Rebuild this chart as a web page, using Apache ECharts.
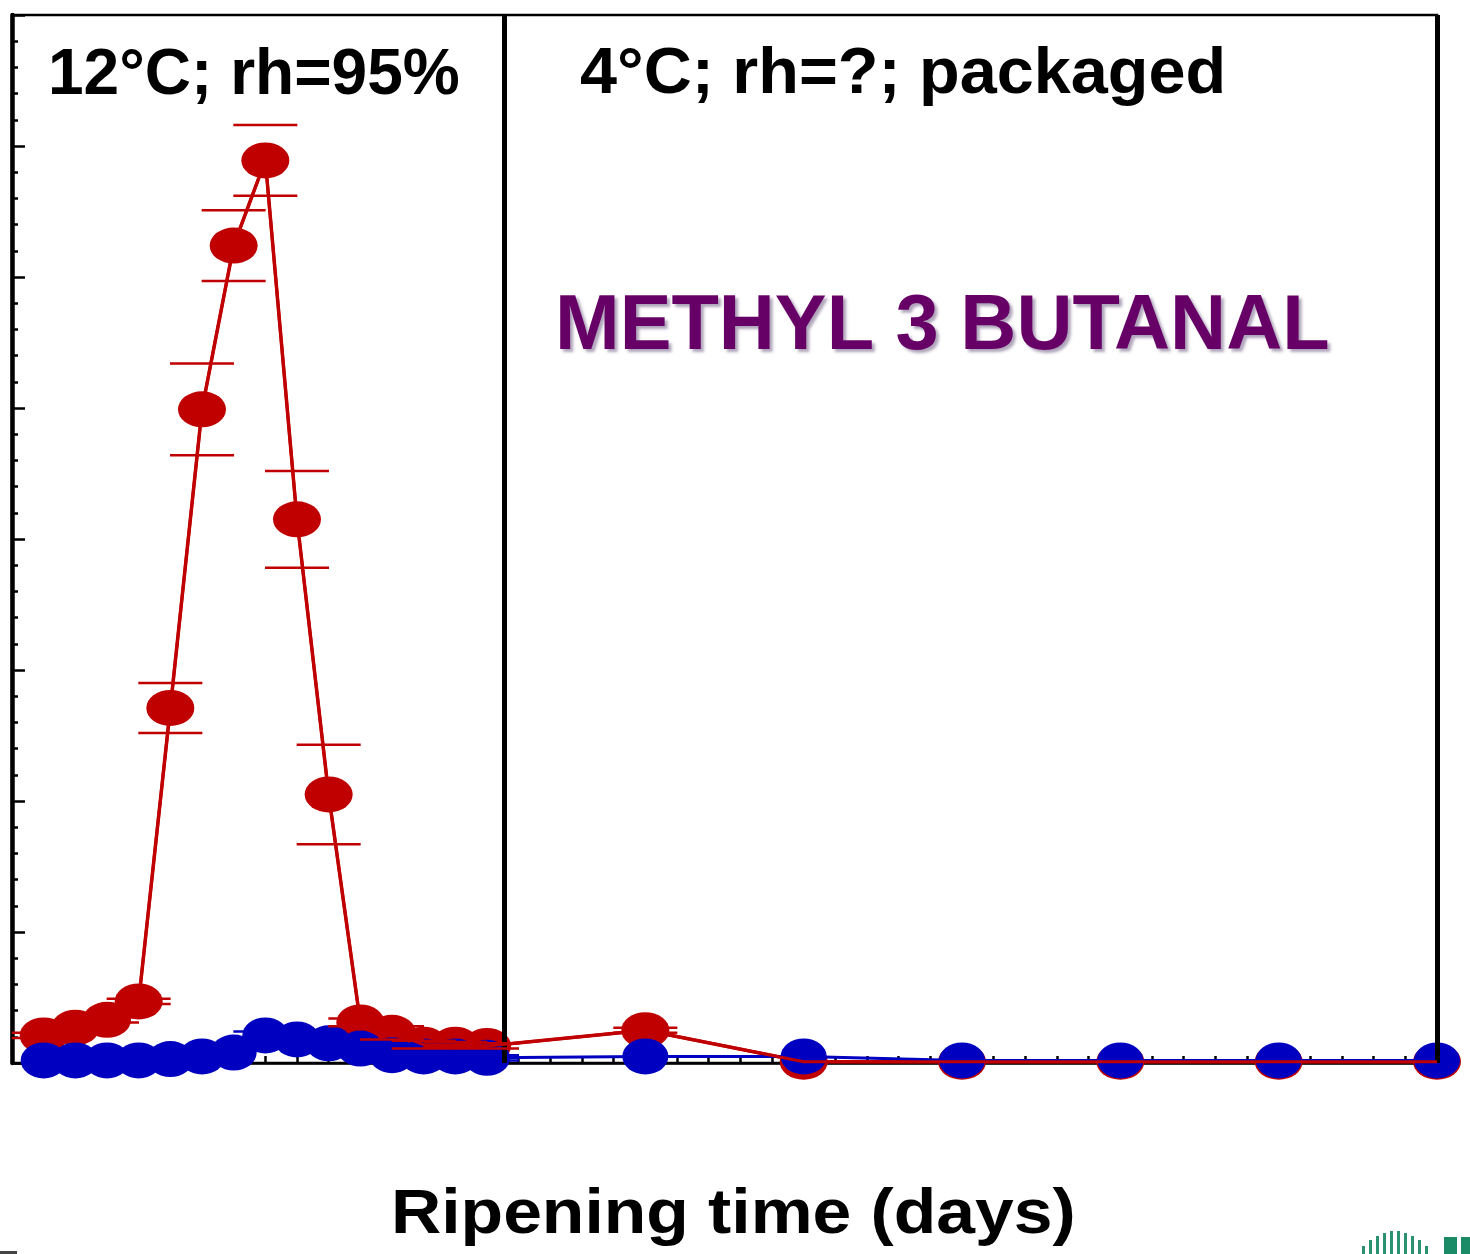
<!DOCTYPE html>
<html>
<head>
<meta charset="utf-8">
<script src="https://cdn.jsdelivr.net/npm/echarts@6/dist/echarts.min.js"></script>
<style>
html,body{margin:0;padding:0;background:#fff;}
#chart{width:1470px;height:1254px;}
</style>
</head>
<body>
<div id="chart"></div>
<script>
// ---- data ----
const days = [1,2,3,4,5,6,7,8,9,10,11,12,13,14,15,20,25,30,35,40,45];
const redValues  = [0.21,0.27,0.33,0.47,2.71,4.99,6.24,6.89,4.15,2.05,0.31,0.23,0.14,0.14,0.13,0.25,0.01,0.01,0.01,0.01,0.01];
const redErrors  = [0.02,0.02,0.02,0.02,0.19,0.35,0.27,0.27,0.37,0.38,0.03,0.05,0.03,0.02,0.02,0.02,0,0,0,0,0];
const blueValues = [0.02,0.02,0.02,0.02,0.03,0.05,0.08,0.21,0.18,0.15,0.11,0.06,0.05,0.05,0.04,0.05,0.05,0.02,0.02,0.02,0.02];
const blueErrors = [0,0,0,0,0,0,0,0.03,0.03,0.04,0.06,0.03,0.03,0.02,0.02,0,0,0,0,0,0];
const panelDivider = 15.55;
const xMax = 45;
const yMax = 8;
const leftPanelLabel = '12°C; rh=95%';
const rightPanelLabel = '4°C; rh=?; packaged';
const compoundLabel = 'METHYL 3 BUTANAL';
const xAxisTitle = 'Ripening time (days)';

const RED = '#C00000';
const BLUE = '#0000C0';

const redData = days.map((d,i)=>[d, redValues[i]]);
const blueData = days.map((d,i)=>[d, blueValues[i]]);
const redErrData = days.map((d,i)=>[d, redValues[i], redErrors[i]]);
const blueErrData = days.map((d,i)=>[d, blueValues[i], blueErrors[i]]);

function errRender(color){
  return function(params, api){
    const x = api.value(0), y = api.value(1), e = api.value(2);
    if (!e) return;
    const top = api.coord([x, y + e]);
    const bot = api.coord([x, y - e]);
    const hw = 32;
    const st = {stroke: color, lineWidth: 2.5};
    return {type:'group', children:[
      {type:'line', shape:{x1:top[0]-hw, y1:top[1], x2:top[0]+hw, y2:top[1]}, style:st},
      {type:'line', shape:{x1:bot[0]-hw, y1:bot[1], x2:bot[0]+hw, y2:bot[1]}, style:st}
    ]};
  };
}

const chart = echarts.init(document.getElementById('chart'), null, {renderer:'canvas'});
const FONT = '"Liberation Sans", Arial, Helvetica, sans-serif';

const option = {
  animation: false,
  backgroundColor: '#fff',
  grid: {left: 12, right: 33, top: 15, bottom: 191, show: true, borderColor: '#000', borderWidth: 2.5, backgroundColor: 'transparent'},
  xAxis: {
    type: 'value', min: 0, max: xMax, interval: 1,
    axisLine: {show: true, onZero: false, lineStyle: {color: '#000', width: 2.5}},
    axisTick: {show: true, inside: true, length: 7, lineStyle: {color: '#000', width: 2.5}},
    axisLabel: {show: false},
    splitLine: {show: false}
  },
  yAxis: {
    type: 'value', min: 0, max: yMax, interval: 1,
    axisLine: {show: true, lineStyle: {color: '#000', width: 4.5}},
    axisTick: {show: true, inside: true, length: 13, lineStyle: {color: '#000', width: 2.5}},
    minorTick: {show: true, splitNumber: 5, length: 6, lineStyle: {color: '#000', width: 2.5}},
    axisLabel: {show: false},
    splitLine: {show: false}
  },
  series: [
    {
      name: 'red', type: 'line', data: redData, z: 2,
      symbol: 'circle', symbolSize: [48, 36],
      itemStyle: {color: RED},
      lineStyle: {color: RED, width: 3.5},
      markLine: {
        silent: true, symbol: ['none','none'], label: {show: false},
        lineStyle: {color: '#000', type: 'solid', width: 5},
        data: [{xAxis: panelDivider}, {xAxis: xMax}]
      }
    },
    {
      name: 'blue', type: 'line', data: blueData, z: 3,
      symbol: 'circle', symbolSize: [46, 36],
      itemStyle: {color: BLUE},
      lineStyle: {color: BLUE, width: 3}
    },
    {
      name: 'blueErr', type: 'custom', data: blueErrData, z: 4,
      renderItem: errRender(BLUE)
    },
    {
      name: 'redLineTop', type: 'line', data: redData, z: 5,
      showSymbol: false, symbol: 'none',
      lineStyle: {color: RED, width: 3}
    },
    {
      name: 'redErr', type: 'custom', data: redErrData, z: 6,
      renderItem: errRender(RED)
    }
  ],
  graphic: [
    {type:'text', x: 48, y: 76, scaleX: 0.985, z: 100,
     style:{text: leftPanelLabel, fill:'#000', font: 'bold 65px ' + FONT, textAlign:'left', textVerticalAlign:'middle'}},
    {type:'text', x: 580, y: 75, scaleX: 1.04, z: 100,
     style:{text: rightPanelLabel, fill:'#000', font: 'bold 64px ' + FONT, textAlign:'left', textVerticalAlign:'middle'}},
    {type:'text', x: 555, y: 327, scaleX: 0.995, z: 100,
     style:{text: compoundLabel, fill:'#660066', font: 'bold 78px ' + FONT, textAlign:'left', textVerticalAlign:'middle',
            textShadowColor:'rgba(110,90,130,0.55)', textShadowOffsetX:3, textShadowOffsetY:3, textShadowBlur:3}},
    {type:'text', x: 391, y: 1216, scaleX: 1.105, z: 100,
     style:{text: xAxisTitle, fill:'#000', font: 'bold 63px ' + FONT, textAlign:'left', textVerticalAlign:'middle'}},
    // bottom-right logo fragment
    {type:'group', z: 100, children: [
      {type:'rect', shape:{x:1362,y:1246,width:3,height:8}, style:{fill:'#2A9270'}},
      {type:'rect', shape:{x:1369,y:1240,width:3,height:14}, style:{fill:'#2A9270'}},
      {type:'rect', shape:{x:1376,y:1236,width:3,height:18}, style:{fill:'#2A9270'}},
      {type:'rect', shape:{x:1383,y:1233,width:3,height:21}, style:{fill:'#2A9270'}},
      {type:'rect', shape:{x:1390,y:1231,width:3,height:23}, style:{fill:'#2A9270'}},
      {type:'rect', shape:{x:1397,y:1231,width:3,height:23}, style:{fill:'#2A9270'}},
      {type:'rect', shape:{x:1404,y:1233,width:3,height:21}, style:{fill:'#2A9270'}},
      {type:'rect', shape:{x:1411,y:1236,width:3,height:18}, style:{fill:'#2A9270'}},
      {type:'rect', shape:{x:1418,y:1240,width:3,height:14}, style:{fill:'#2A9270'}},
      {type:'rect', shape:{x:1425,y:1246,width:3,height:8}, style:{fill:'#2A9270'}},
      {type:'rect', shape:{x:1444,y:1237,width:13,height:17}, style:{fill:'#1B8A66'}},
      {type:'rect', shape:{x:1461,y:1237,width:9,height:17}, style:{fill:'#1B8A66'}},
      {type:'rect', shape:{x:0,y:1251,width:17,height:3}, style:{fill:'#444'}}
    ]}
  ]
};
chart.setOption(option);
</script>
</body>
</html>
